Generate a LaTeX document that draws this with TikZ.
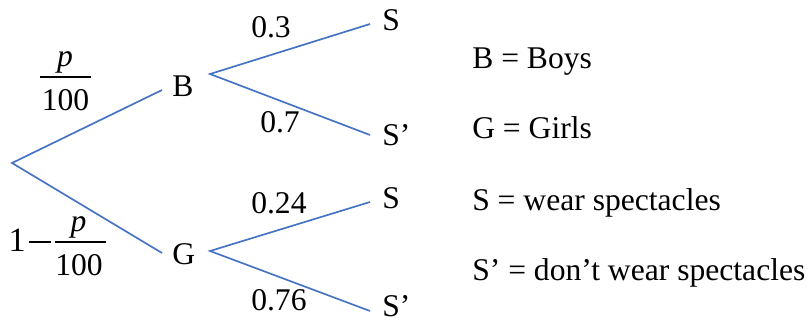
\documentclass[tikz,border=0pt]{standalone}
\usepackage{fontspec}
\setmainfont{Liberation Serif}
\newcommand\tfont{\fontsize{23.7pt}{28pt}\selectfont}
\definecolor{branch}{RGB}{68,114,196}
\begin{document}
\begin{tikzpicture}[x=0.75pt,y=-0.75pt,
  lbl/.style={inner sep=0pt,font=\tfont,anchor=base west},
  lblc/.style={inner sep=0pt,font=\tfont,anchor=base},
  branchline/.style={draw=branch,line width=1.25pt},
  fracbar/.style={draw=black,line width=1.1pt}]
\useasboundingbox (0,0) rectangle (812,322);
% tree outcome labels
\node[lbl] (B) at (172,96) {B};
\node[lbl] (G) at (172,264) {G};
\node[lbl] (S1) at (382,30) {S};
\node[lbl] (S1p) at (382,145) {S’};
\node[lbl] (S2) at (382,208) {S};
\node[lbl] (S2p) at (382,316.5) {S’};
% branch end points
\coordinate (root) at (12,163);
\coordinate (Bin) at (162,90);
\coordinate (Gin) at (162,253);
\coordinate (Bout) at (210,74);
\coordinate (Gout) at (210,251);
\coordinate (S1in) at (370,24);
\coordinate (S1pin) at (370,135);
\coordinate (S2in) at (370,202);
\coordinate (S2pin) at (370,311);
\draw[branchline] (Bin) -- (root) -- (Gin);
\draw[branchline] (S1in) -- (Bout) -- (S1pin);
\draw[branchline] (S2in) -- (Gout) -- (S2pin);
% probabilities
\node[lbl] (p3) at (251,37) {0.3};
\node[lbl] (p7) at (260,132) {0.7};
\node[lbl] (p24) at (251,213) {0.24};
\node[lbl] (p76) at (251,310) {0.76};
% p/100
\node[lblc] (f1n) at (65,66) {\itshape p};
\node[lblc] (f1d) at (65.5,110) {100};
\coordinate (f1a) at (40,77);
\coordinate (f1b) at (91,77);
\draw[fracbar] (f1a) -- (f1b);
% 1 - p/100
\node[lbl,anchor=base east,font=\fontsize{25.5pt}{30pt}\selectfont] (one) at (26,251.5) {1};
\coordinate (ma) at (29,242);
\coordinate (mb) at (51,242);
\draw[fracbar] (ma) -- (mb);
\node[lblc] (f2n) at (78.5,231) {\itshape p};
\node[lblc] (f2d) at (79,275) {100};
\coordinate (f2a) at (55,242);
\coordinate (f2b) at (106,242);
\draw[fracbar] (f2a) -- (f2b);
% legend
\node[lbl] (k1) at (472,68) {B = Boys};
\node[lbl] (k2) at (472,138) {G = Girls};
\node[lbl] (k3) at (472,210) {S = wear spectacles};
\node[lbl] (k4) at (472,280) {S’ = don’t wear spectacles};
\end{tikzpicture}
\end{document}
